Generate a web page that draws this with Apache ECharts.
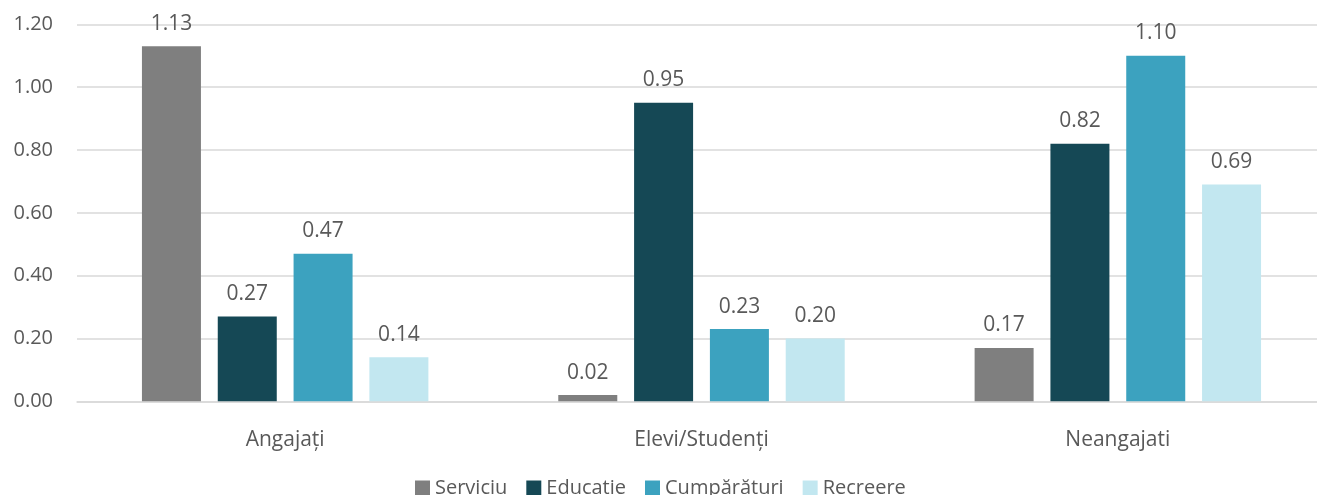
<!DOCTYPE html>
<html>
<head>
<meta charset="utf-8">
<script src="https://cdn.jsdelivr.net/npm/echarts@6/dist/echarts.min.js"></script>
<style>
html,body{margin:0;padding:0;background:#fff;overflow:hidden;width:1317px;height:495px;}
#c{width:1330px;height:495px;}
</style>
</head>
<body>
<div id="c"></div>
<script>
const categories = ['Angajați', 'Elevi/Studenți', 'Neangajati'];
const seriesNames = ['Serviciu', 'Educatie', 'Cumpărături', 'Recreere'];
const serviciu = [1.13, 0.02, 0.17];
const educatie = [0.27, 0.95, 0.82];
const cumparaturi = [0.47, 0.23, 1.10];
const recreere = [0.14, 0.20, 0.69];
const yTicks = [0, 0.2, 0.4, 0.6, 0.8, 1.0, 1.2];

const colors = ['#7F7F7F', '#154855', '#3CA2BF', '#C2E7F0'];
const FONT = '"Open Sans", sans-serif';
const TXT = '#595959';
const values = [serviciu, educatie, cumparaturi, recreere];

const chart = echarts.init(document.getElementById('c'), null, {renderer: 'canvas'});
chart.setOption({
  animation: false,
  textStyle: {fontFamily: FONT},
  grid: {left: 77, width: 1249, top: 24.3, height: 377, containLabel: false},
  legend: {
    data: seriesNames,
    top: 473,
    left: 410,
    itemWidth: 15,
    itemHeight: 15,
    itemGap: 19,
    icon: 'rect',
    textStyle: {color: TXT, fontSize: 20, fontFamily: FONT}
  },
  xAxis: {
    type: 'category',
    data: categories,
    axisLine: {show: true, lineStyle: {color: '#D9D9D9', width: 1.5}},
    axisTick: {show: false},
    axisLabel: {color: TXT, fontSize: 21, fontFamily: FONT, margin: 28}
  },
  yAxis: {
    type: 'value',
    min: yTicks[0],
    max: yTicks[yTicks.length - 1],
    interval: 0.2,
    axisLine: {show: false},
    axisTick: {show: false},
    splitLine: {lineStyle: {color: '#D9D9D9', width: 1.5}},
    axisLabel: {color: TXT, fontSize: 20, fontFamily: FONT, margin: 24,
      formatter: v => v.toFixed(2)}
  },
  series: seriesNames.map((n, i) => ({
    name: n,
    type: 'bar',
    data: values[i],
    barWidth: 59,
    barGap: '28.5%',
    itemStyle: {color: colors[i]},
    label: {
      show: true,
      position: 'top',
      distance: 12,
      color: TXT,
      fontSize: 21,
      fontFamily: FONT,
      formatter: p => p.value.toFixed(2)
    }
  }))
});
</script>
</body>
</html>
